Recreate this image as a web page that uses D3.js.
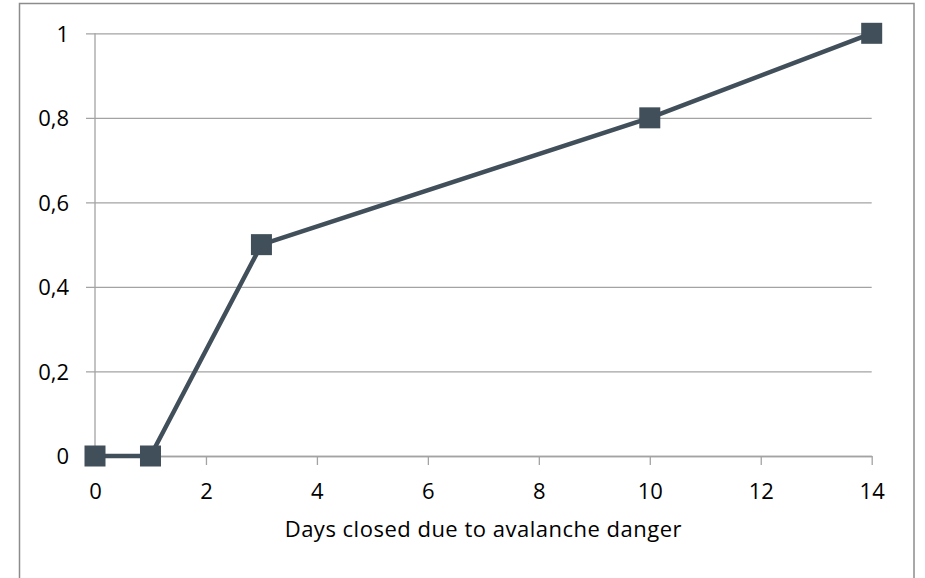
<!DOCTYPE html>
<html>
<head>
<meta charset="utf-8">
<script src="https://cdn.jsdelivr.net/npm/d3@7"></script>
<style>
  html, body { margin: 0; padding: 0; background: #fff; }
  svg { display: block; }
  text { font-family: "Open Sans", Lato, sans-serif; fill: #000; }
</style>
</head>
<body>
<svg id="chart" width="925" height="578"></svg>
<script>
// Share of season affected vs. days closed due to avalanche danger
const daysClosed = [0, 1, 3, 10, 14];
const shareValues = [0, 0, 0.5, 0.8, 1];
const xTickValues = [0, 2, 4, 6, 8, 10, 12, 14];
const yTickValues = [0, 0.2, 0.4, 0.6, 0.8, 1];
const xAxisTitle = "Days closed due to avalanche danger";

const svg = d3.select("#chart");
const plot = { left: 95, right: 871.7, top: 33.3, bottom: 456 };

const lineColor = "#404f5a";
const gridColor = "#a3a3a3";
const fontFamily = "'Open Sans', Lato, sans-serif";
const fontSize = 22;

// Chart frame
svg.append("rect")
  .attr("x", 19.5).attr("y", 3.5)
  .attr("width", 894.5).attr("height", 590)
  .attr("fill", "#fff")
  .attr("stroke", "#8c8c8c")
  .attr("stroke-width", 1.5);

const x = d3.scaleLinear().domain([0, 14]).range([plot.left, plot.right]);
const y = d3.scaleLinear().domain([0, 1]).range([plot.bottom, plot.top]);

// Horizontal gridlines with left tick marks and y labels
const yAxis = d3.axisLeft(y)
  .tickValues(yTickValues)
  .tickSize(-(plot.right - plot.left))
  .tickPadding(0)
  .tickFormat(d => d3.format("~g")(d).replace(".", ","));

const gy = svg.append("g")
  .attr("transform", `translate(${plot.left},0)`)
  .call(yAxis);
gy.select(".domain").remove();
gy.selectAll(".tick line")
  .attr("x1", -9)
  .attr("stroke", gridColor)
  .attr("stroke-width", 1.3);
gy.selectAll(".tick text")
  .attr("x", -26)
  .attr("dy", "0.36em")
  .style("font-size", fontSize + "px")
  .style("font-family", fontFamily)
  .attr("fill", "#000");

// Vertical axis line
svg.append("line")
  .attr("x1", plot.left).attr("x2", plot.left)
  .attr("y1", plot.top).attr("y2", plot.bottom)
  .attr("stroke", gridColor).attr("stroke-width", 1.3);

// Horizontal axis with downward ticks
const xAxis = d3.axisBottom(x)
  .tickValues(xTickValues)
  .tickSize(9)
  .tickSizeOuter(0)
  .tickPadding(0)
  .tickFormat(d3.format("d"));

const gx = svg.append("g")
  .attr("transform", `translate(0,${plot.bottom})`)
  .call(xAxis);
gx.select(".domain").attr("stroke", gridColor).attr("stroke-width", 1.3);
gx.selectAll(".tick line").attr("stroke", gridColor).attr("stroke-width", 1.3);
gx.selectAll(".tick text")
  .attr("y", 43)
  .attr("dy", 0)
  .style("font-size", fontSize + "px")
  .style("font-family", fontFamily)
  .attr("fill", "#000");

// Axis title
svg.append("text")
  .attr("x", (plot.left + plot.right) / 2)
  .attr("y", 536.5)
  .attr("text-anchor", "middle")
  .style("font-size", fontSize + "px")
  .style("font-family", fontFamily)
  .style("letter-spacing", "0.5px")
  .text(xAxisTitle);

// Series line and square markers
const points = daysClosed.map((d, i) => ({ x: d, y: shareValues[i] }));

svg.append("path")
  .datum(points)
  .attr("fill", "none")
  .attr("stroke", lineColor)
  .attr("stroke-width", 4.5)
  .attr("stroke-linejoin", "round")
  .attr("d", d3.line().x(d => x(d.x)).y(d => y(d.y)));

const m = 21;
svg.append("g").selectAll("rect")
  .data(points)
  .join("rect")
  .attr("x", d => x(d.x) - m / 2)
  .attr("y", d => y(d.y) - m / 2)
  .attr("width", m)
  .attr("height", m)
  .attr("fill", lineColor);
</script>
</body>
</html>
